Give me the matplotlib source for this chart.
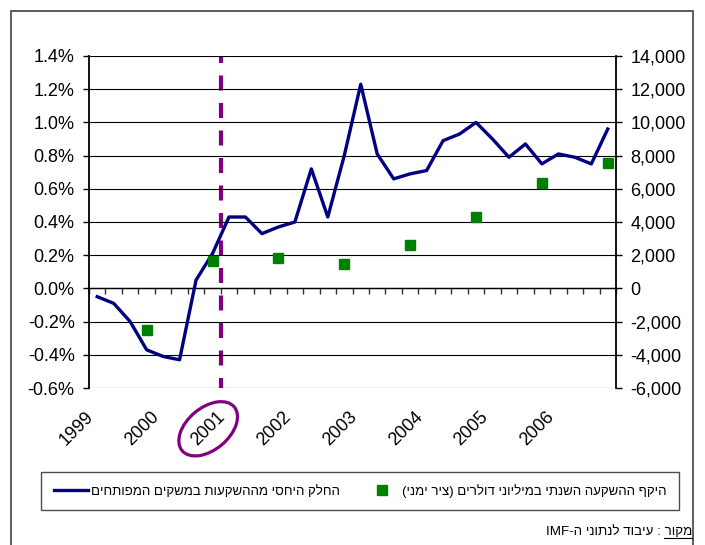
import re
import matplotlib
matplotlib.use('Agg')
import matplotlib.pyplot as plt
import matplotlib.transforms as mtransforms
from matplotlib.patches import Ellipse, Rectangle
from matplotlib.lines import Line2D
from matplotlib.ticker import FuncFormatter, MultipleLocator

plt.rcParams['font.family'] = ['Liberation Sans', 'DejaVu Sans']
plt.rcParams['axes.unicode_minus'] = False

# data (quarterly share, annual volume on the right axis)
years = ['1999', '2000', '2001', '2002', '2003', '2004', '2005', '2006']
share_pct = [-0.05, -0.09, -0.20, -0.37, -0.41, -0.43, 0.05, 0.21,
             0.43, 0.43, 0.33, 0.37, 0.40, 0.72, 0.43, 0.80,
             1.23, 0.81, 0.66, 0.69, 0.71, 0.89, 0.93, 1.00,
             0.90, 0.79, 0.87, 0.75, 0.81, 0.79, 0.75, 0.96]
annual_musd = [-2530, 1650, 1850, 1450, 2590, 4300, 6350, 7550]
marked_year = '2001'

label_share = 'החלק היחסי מההשקעות במשקים המפותחים'
label_annual = 'היקף ההשקעה השנתי במיליוני דולרים (ציר ימני)'
source_word = 'מקור'
source_text = 'מקור : עיבוד לנתוני ה-IMF'

navy = '#000080'
green = '#008000'
purple = '#800080'


def visual(s):
    # matplotlib has no bidi, so lay out RTL text in display order
    tokens = re.findall(r'[A-Za-z0-9]+|.', s)
    mirror = {'(': ')', ')': '('}
    return ''.join(mirror.get(t, t) for t in tokens[::-1])


W, H = 705, 545
fig = plt.figure(figsize=(W / 100, H / 100), dpi=100)
ax = fig.add_axes([89 / W, 1 - 388 / H, 527 / W, 332 / H])
ax2 = ax.twinx()

q_x = [i + 0.5 for i in range(len(share_pct))]
year_x = [4 * i + 3.5 for i in range(len(annual_musd))]

# dashed marker for the start of the marked year sits under the gridlines
ax.axvline(4 * years.index(marked_year), color=purple, lw=3,
           ls=(1.2, (3.6, 3.0)), zorder=0.5)
ax.plot(q_x, share_pct, color=navy, lw=2.4, zorder=3)
ax2.plot(year_x, annual_musd, ls='none', marker='s', ms=7, color=green, zorder=3)

ax.set_xlim(0, len(share_pct))
ax.set_ylim(-0.6, 1.4)
ax2.set_ylim(-6000, 14000)
ax.yaxis.set_major_locator(MultipleLocator(0.2))
ax2.yaxis.set_major_locator(MultipleLocator(2000))
ax.yaxis.set_major_formatter(FuncFormatter(lambda v, p: f'{round(v, 1) + 0.0:.1f}%'))
ax2.yaxis.set_major_formatter(FuncFormatter(lambda v, p: f'{int(round(v)):,}'))

ax.yaxis.grid(True, color='black', lw=0.8, zorder=1)
ax.set_axisbelow(True)

ax.set_xticks(range(len(share_pct) + 1))
ax.set_xticklabels([])
ax.tick_params(axis='x', direction='out', length=4, width=1, color='0.2')
ax.tick_params(axis='y', direction='out', length=4.3, width=1, labelsize=13, pad=6)
ax2.tick_params(axis='y', direction='out', length=4.3, width=1, labelsize=13, pad=6)

ax.spines['top'].set_visible(False)
ax.spines['right'].set_visible(False)
ax.spines['bottom'].set_position(('data', 0))
ax.spines['bottom'].set_linewidth(1)
ax.spines['left'].set_linewidth(1.3)
for s in ['top', 'bottom', 'left']:
    ax2.spines[s].set_visible(False)
ax2.spines['right'].set_linewidth(1.3)

trans = mtransforms.blended_transform_factory(ax.transData, ax.transAxes)
year_texts = []
for k, yr in enumerate(years):
    t = ax.text(4 * k + 0.1, -0.08, yr, transform=trans, rotation=45,
                rotation_mode='anchor', ha='right', va='center', fontsize=13)
    year_texts.append(t)

leg_fs = 9.5
leg_handles = [Line2D([], [], color=navy, lw=2.4),
               Line2D([], [], ls='none', marker='s', ms=7, color=green)]
leg_labels = [visual(label_share), visual(label_annual)]


def make_legend(colspace):
    return fig.legend(handles=leg_handles, labels=leg_labels, ncol=2,
                      loc='center', bbox_to_anchor=(360 / W, 1 - 491 / H),
                      fancybox=False, edgecolor='0.3', framealpha=1,
                      fontsize=leg_fs, handlelength=2.6, handletextpad=0.25,
                      borderpad=0.95, columnspacing=colspace)


fig.add_artist(Rectangle((11 / W, -0.05), (693 - 11) / W, 1 - 11 / H + 0.05,
                         transform=fig.transFigure, fill=False, ec='0.25', lw=1.2))

src_fs = 9.6
src = fig.text(692 / W, 1 - 535 / H, visual(source_text), ha='right',
               va='baseline', fontsize=src_fs)

# size the legend box to the reference width by widening the column gap
leg = make_legend(2.0)
fig.canvas.draw()
renderer = fig.canvas.get_renderer()
wpx = leg.get_window_extent(renderer).width
leg.remove()
leg = make_legend(2.0 + (638 - wpx) / (leg_fs * 100 / 72))
fig.canvas.draw()

# circle around the marked year label
bb = year_texts[years.index(marked_year)].get_window_extent(renderer)
fig.add_artist(Ellipse(((bb.x0 + bb.x1) / 2, (bb.y0 + bb.y1) / 2), 68, 42, angle=40,
                       transform=mtransforms.IdentityTransform(),
                       fill=False, ec=purple, lw=2.3))

# underline the first word of the source line
tmp = fig.text(0, 0, visual(source_word), fontsize=src_fs)
w = tmp.get_window_extent(renderer).width / W
tmp.remove()
uy = 1 - 538 / H
fig.add_artist(Line2D([692 / W - w, 692 / W], [uy, uy], color='black', lw=0.8,
                      transform=fig.transFigure))

fig.savefig('out.png', dpi=100)
